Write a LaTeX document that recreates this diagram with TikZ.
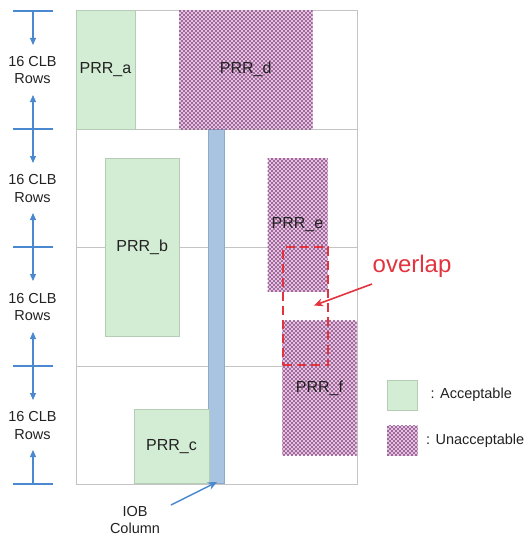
\documentclass[tikz,border=0pt]{standalone}
\usepackage{fontspec}
\setmainfont{Liberation Sans}
\usetikzlibrary{arrows.meta,patterns.meta}

\definecolor{okfill}{HTML}{D3EDD5}
\definecolor{okline}{HTML}{B5CCB6}
\definecolor{badfill}{HTML}{EBCBE8}
\definecolor{badline}{HTML}{94558C}
\definecolor{iobfill}{HTML}{A9C4E1}
\definecolor{iobline}{HTML}{8DAACB}
\definecolor{gridline}{HTML}{C4C4C4}
\definecolor{dimblue}{HTML}{4A88CF}
\definecolor{warnred}{HTML}{E2333F}
\definecolor{txt}{HTML}{222222}

% diagonal cross-hatch used for rejected regions
\pgfdeclarepattern{
  name=prrhatch, type=uncolored,
  bottom left={\pgfpoint{-0.1pt}{-0.1pt}},
  top right={\pgfpoint{4.1pt}{4.1pt}},
  tile size={\pgfpoint{4pt}{4pt}},
  code={
    \pgfsetlinewidth{0.55pt}
    \pgfpathmoveto{\pgfpoint{0pt}{0pt}}\pgfpathlineto{\pgfpoint{4pt}{4pt}}
    \pgfpathmoveto{\pgfpoint{0pt}{4pt}}\pgfpathlineto{\pgfpoint{4pt}{0pt}}
    \pgfusepath{stroke}
  }
}

\begin{document}
\begin{tikzpicture}[x=1pt,y=-1pt,
  grid/.style={draw=gridline,line width=0.9pt},
  boxtext/.style={text=txt,font=\fontsize{16}{18}\selectfont},
  okbox/.style={boxtext,rectangle,draw=okline,line width=0.7pt,fill=okfill,inner sep=0pt},
  badbox/.style={boxtext,rectangle,inner sep=0pt,
    preaction={fill=badfill},pattern=prrhatch,pattern color=badline},
  iobbox/.style={rectangle,draw=iobline,line width=0.7pt,fill=iobfill,inner sep=0pt},
  rowslabel/.style={text=txt,align=center,font=\fontsize{14.5}{17.5}\selectfont,inner sep=0pt},
  legendtext/.style={text=txt,font=\fontsize{14.5}{17}\selectfont,inner sep=0pt,anchor=west},
  dimtick/.style={draw=dimblue,line width=1.2pt},
  dimarrow/.style={draw=dimblue,line width=1.1pt,-{Triangle[length=7pt,width=6pt]}},
  overlapbox/.style={rectangle,draw=warnred,line width=1.8pt,dash pattern=on 9pt off 5pt,inner sep=0pt},
  warnarrow/.style={draw=warnred,line width=1.6pt,-{Stealth[length=9pt,width=8pt]}},
  iobarrow/.style={draw=dimblue,line width=1.4pt,-{Stealth[length=9pt,width=8pt]}}
]
\useasboundingbox (0,0) rectangle (524,535);

% device outline and clock-region boundaries
\draw[grid] (76,10.5) rectangle (357,484);
\draw[grid] (76,129) -- (357,129);
\draw[grid] (76,247.5) -- (357,247.5);
\draw[grid] (76,366) -- (357,366);

% row-height dimension marks
\foreach \n/\y in {0/11,1/129,2/247,3/366,4/484}{
  \coordinate (t\n) at (33,\y);
  \draw[dimtick] (13,\y) -- (53,\y);
}
\node[rowslabel] (rows1) at (32.5,70)  {16 CLB\\Rows};
\node[rowslabel] (rows2) at (32.5,188.5) {16 CLB\\Rows};
\node[rowslabel] (rows3) at (32.5,307) {16 CLB\\Rows};
\node[rowslabel] (rows4) at (32.5,425.5) {16 CLB\\Rows};
\foreach \a/\b in {t0/t1,t1/t2,t2/t3,t3/t4}{
  \draw[dimarrow] (\a) -- ([yshift=-34pt]\a);
  \draw[dimarrow] (\b) -- ([yshift=34pt]\b);
}

% IOB column
\node[iobbox,minimum width=15.5pt,minimum height=354.5pt] (iob) at (216.25,306.25) {};

% reconfigurable regions
\node[okbox,minimum width=59pt,minimum height=118.5pt] (prra) at (105.5,69.75) {PRR\_a};
\node[badbox,minimum width=133.5pt,minimum height=118.5pt] (prrd) at (245.75,69.75) {PRR\_d};
\node[okbox,minimum width=74.5pt,minimum height=178pt] (prrb) at (142.25,247) {PRR\_b};
\node[badbox,minimum width=60pt,minimum height=133.4pt] (prre) at (297.5,225) {PRR\_e};
\node[badbox,minimum width=74.4pt,minimum height=134.3pt] (prrf) at (319.5,387.85) {PRR\_f};
\node[okbox,minimum width=75pt,minimum height=74.2pt] (prrc) at (171.5,446.4) {PRR\_c};

% overlap marker
\node[overlapbox,minimum width=45pt,minimum height=117.7pt] (ovbox) at (305.8,306.15) {};
\node[text=warnred,font=\fontsize{24}{26}\selectfont,inner sep=0pt,anchor=base west] (ovtext) at (372.5,272) {overlap};
\coordinate (ovstart) at (372,284);
\coordinate (ovtip) at (314,305.5);
\draw[warnarrow] (ovstart) -- (ovtip);

% IOB column callout
\node[text=txt,align=center,font=\fontsize{14.5}{16.5}\selectfont,inner sep=0pt] (iobtext) at (135,520) {IOB\\Column};
\coordinate (iobstart) at (171,505);
\coordinate (iobtip) at (217,482);
\draw[iobarrow] (iobstart) -- (iobtip);

% legend
\node[okbox,minimum width=30.5pt,minimum height=30pt] (legok) at (402.3,395) {};
\node[badbox,minimum width=30.5pt,minimum height=30.3pt] (legbad) at (402.3,440.8) {};
\node[legendtext] (legoktext) at (430.5,395) {: Acceptable};
\node[legendtext] (legbadtext) at (426,441) {: Unacceptable};
\end{tikzpicture}
\end{document}
